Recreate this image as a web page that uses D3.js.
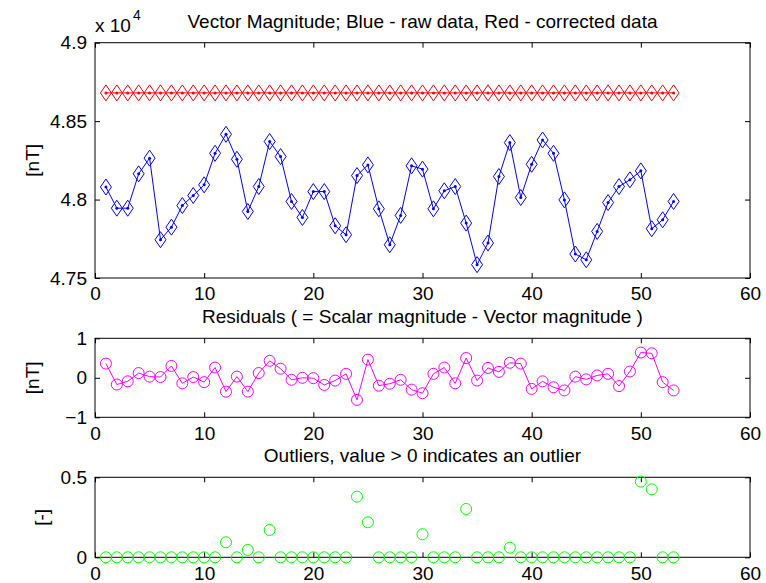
<!DOCTYPE html>
<html>
<head>
<meta charset="utf-8">
<script src="https://cdn.jsdelivr.net/npm/d3@7"></script>
<style>
  body { margin: 0; background: #fff; }
  svg text { font-family: "Liberation Sans", Arial, sans-serif; fill: #000; }
</style>
</head>
<body>
<svg id="fig" width="766" height="583"></svg>
<script>
// sample index 1..53
const idx = d3.range(1, 54);

// raw vector magnitude [nT]
const rawMag = [
  48080, 47945, 47945, 48164, 48264, 47744, 47824, 47962, 48026, 48094,
  48295, 48416, 48257, 47924, 48083, 48370, 48274, 47988, 47886, 48051,
  48051, 47833, 47776, 48153, 48221, 47941, 47712, 47899, 48215, 48194,
  47941, 48056, 48083, 47850, 47585, 47723, 48147, 48363, 48013, 48225,
  48380, 48295, 47998, 47653, 47616, 47797, 47981, 48083, 48126, 48183,
  47814, 47871, 47988
];
// corrected magnitude [nT]
const corrMag = idx.map(() => 48680);

const residuals = [
  0.36, -0.17, -0.09, 0.12, 0.03, 0.02, 0.30, -0.14, 0.02, -0.11,
  0.26, -0.35, 0.03, -0.35, 0.12, 0.43, 0.23, -0.05, 0.00, -0.01,
  -0.18, -0.07, 0.10, -0.56, 0.46, -0.20, -0.15, -0.05, -0.30, -0.39,
  0.10, 0.26, -0.14, 0.50, -0.07, 0.25, 0.15, 0.38, 0.36, -0.28,
  -0.09, -0.24, -0.32, 0.03, -0.04, 0.06, 0.10, -0.21, 0.16, 0.64,
  0.62, -0.11, -0.32
];

const outliers = [
  0, 0, 0, 0, 0, 0, 0, 0, 0, 0,
  0, 0.094, 0, 0.046, 0, 0.171, 0, 0, 0, 0,
  0, 0, 0, 0.379, 0.219, 0, 0, 0, 0, 0.144,
  0, 0, 0, 0.302, 0, 0, 0, 0.06, 0, 0,
  0, 0, 0, 0, 0, 0, 0, 0, 0, 0.473,
  0.425, 0, 0
];

const xTicks = [0, 10, 20, 30, 40, 50, 60];
const magTicks = [47500, 48000, 48500, 49000];

const svg = d3.select('#fig');
const FS = 19;
const left = 95, right = 750;

const x = d3.scaleLinear().domain([0, 60]).range([left, right]);

function panel(top, bottom, yDomain, yTicks, yFmt, title, ylabel, ylabelX) {
  const y = d3.scaleLinear().domain(yDomain).range([bottom, top]);
  const g = svg.append('g');
  const tl = 5;
  // ticks inward on all four sides
  g.append('g').attr('transform', `translate(0,${bottom})`)
    .call(d3.axisBottom(x).tickValues(xTicks).tickSize(-tl).tickPadding(9).tickFormat(d3.format('d')));
  g.append('g').attr('transform', `translate(0,${top})`)
    .call(d3.axisTop(x).tickValues(xTicks).tickSize(-tl).tickFormat(''));
  g.append('g').attr('transform', `translate(${left},0)`)
    .call(d3.axisLeft(y).tickValues(yTicks).tickSize(-tl).tickPadding(8).tickFormat(yFmt));
  g.append('g').attr('transform', `translate(${right},0)`)
    .call(d3.axisRight(y).tickValues(yTicks).tickSize(-tl).tickFormat(''));
  g.selectAll('.domain').remove();
  g.selectAll('.tick line').attr('stroke', '#000');
  g.selectAll('.tick text').attr('font-size', FS).attr('font-family', '"Liberation Sans", Arial, sans-serif');
  g.append('rect')
    .attr('x', left).attr('y', top)
    .attr('width', right - left).attr('height', bottom - top)
    .attr('fill', 'none').attr('stroke', '#000').attr('stroke-width', 1);
  g.append('text')
    .attr('x', (left + right) / 2).attr('y', top - 15)
    .attr('text-anchor', 'middle').attr('font-size', FS)
    .text(title);
  g.append('text')
    .attr('transform', `translate(${ylabelX},${(top + bottom) / 2}) rotate(-90)`)
    .attr('text-anchor', 'middle').attr('font-size', FS)
    .text(ylabel);
  return y;
}

function diamonds(sel, data, y, color) {
  sel.selectAll(null).data(data).join('path')
    .attr('d', d => {
      const cx = x(d[0]), cy = y(d[1]), w = 5.5, h = 8;
      return `M${cx},${cy - h}L${cx + w},${cy}L${cx},${cy + h}L${cx - w},${cy}Z`;
    })
    .attr('fill', 'none').attr('stroke', color).attr('stroke-width', 1);
  sel.selectAll(null).data(data).join('circle')
    .attr('cx', d => x(d[0])).attr('cy', d => y(d[1])).attr('r', 1.5)
    .attr('fill', color);
}

// --- panel 1: vector magnitude
const y1 = panel(42.7, 278, [47500, 49000], magTicks,
  d => String(+(d / 1e4).toFixed(2)),
  'Vector Magnitude; Blue - raw data, Red - corrected data', '[nT]', 39);
svg.append('text').attr('x', 95).attr('y', 32).attr('font-size', FS).text('x 10');
svg.append('text').attr('x', 133).attr('y', 20).attr('font-size', 14).text('4');

const line1 = d3.line().x(d => x(d[0]));
const rawPts = idx.map((i, k) => [i, rawMag[k]]);
const corrPts = idx.map((i, k) => [i, corrMag[k]]);
const g1 = svg.append('g');
g1.append('path').datum(corrPts).attr('d', line1.y(d => y1(d[1])))
  .attr('fill', 'none').attr('stroke', '#ff0000');
g1.append('path').datum(rawPts).attr('d', line1.y(d => y1(d[1])))
  .attr('fill', 'none').attr('stroke', '#0000ff');
diamonds(g1.append('g'), corrPts, y1, '#ff0000');
diamonds(g1.append('g'), rawPts, y1, '#0000ff');

// --- panel 2: residuals
const y2 = panel(338.3, 417.3, [-1, 1], [-1, 0, 1], d3.format('d'),
  'Residuals ( = Scalar magnitude - Vector magnitude )', '[nT]', 39);
const resPts = idx.map((i, k) => [i, residuals[k]]);
const g2 = svg.append('g');
g2.append('path').datum(resPts)
  .attr('d', d3.line().x(d => x(d[0])).y(d => y2(d[1])))
  .attr('fill', 'none').attr('stroke', '#ff00ff');
g2.selectAll(null).data(resPts).join('circle')
  .attr('cx', d => x(d[0])).attr('cy', d => y2(d[1])).attr('r', 5.5)
  .attr('fill', 'none').attr('stroke', '#ff00ff');

// --- panel 3: outliers
const y3 = panel(477.3, 557.3, [0, 0.5], [0, 0.5], d => d === 0 ? '0' : '0.5',
  'Outliers, value > 0 indicates an outlier', '[-]', 48);
const outPts = idx.map((i, k) => [i, outliers[k]]);
svg.append('g').selectAll(null).data(outPts).join('circle')
  .attr('cx', d => x(d[0])).attr('cy', d => y3(d[1])).attr('r', 5.5)
  .attr('fill', 'none').attr('stroke', '#00ff00');
</script>
</body>
</html>
